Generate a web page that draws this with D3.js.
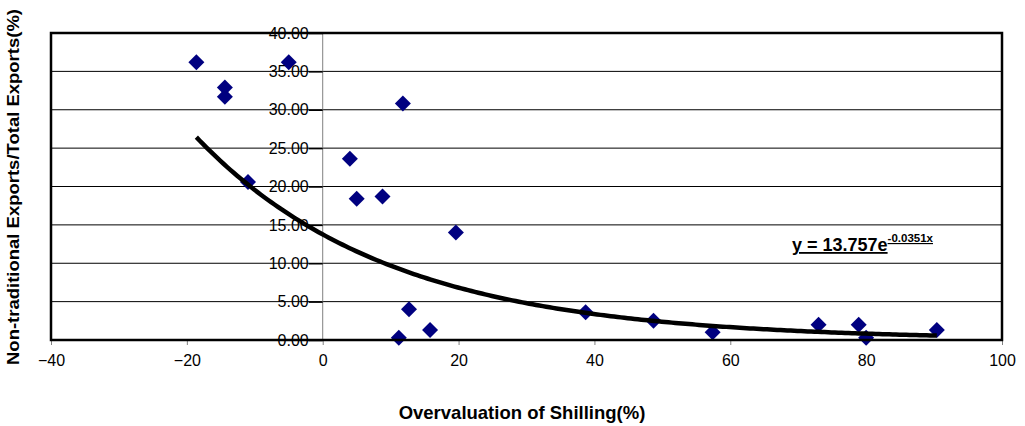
<!DOCTYPE html>
<html>
<head>
<meta charset="utf-8">
<script src="https://cdn.jsdelivr.net/npm/d3@7"></script>
<style>
  body { margin: 0; background: #fff; }
  svg { display: block; font-family: "Liberation Sans", Arial, sans-serif; }
</style>
</head>
<body>
<svg id="chart" width="1025" height="426"></svg>
<script>
// Overvaluation of shilling (%) vs non-traditional export share (%)
const overvaluation = [-18.6, -5.0, -14.4, -14.4, -11.0, 11.8, 4.0, 5.0, 8.8, 19.6,
  12.7, 11.2, 15.8, 38.7, 48.7, 57.4, 73.0, 78.9, 80.0, 90.4];
const exportShare = [36.2, 36.2, 32.9, 31.7, 20.6, 30.8, 23.6, 18.4, 18.7, 14.0,
  4.0, 0.3, 1.3, 3.6, 2.5, 1.0, 2.0, 2.0, 0.3, 1.3];

const xTicks = [-40, -20, 0, 20, 40, 60, 80, 100];
const yTicks = [0, 5, 10, 15, 20, 25, 30, 35, 40];

// exponential trendline shown on the chart: y = a * e^(b x)
const trendCoef = [13.757, -0.0351];

const svg = d3.select("#chart");
const plotLeft = 51, plotRight = 1002, plotTop = 33, plotBottom = 340;

const x = d3.scaleLinear().domain([-40, 100]).range([plotLeft, plotRight]);
const y = d3.scaleLinear().domain([0, 40]).range([plotBottom, plotTop]);

// horizontal gridlines
svg.append("g")
  .selectAll("line")
  .data(yTicks.filter(d => d > 0 && d < 40))
  .join("line")
  .attr("x1", plotLeft).attr("x2", plotRight)
  .attr("y1", d => y(d)).attr("y2", d => y(d))
  .attr("stroke", "#000").attr("stroke-width", 1);

// vertical axis at x = 0
svg.append("line")
  .attr("x1", x(0)).attr("x2", x(0))
  .attr("y1", plotTop).attr("y2", plotBottom)
  .attr("stroke", "#808080").attr("stroke-width", 1);

// x axis ticks and labels
const xAxis = svg.append("g").attr("transform", `translate(0,${plotBottom})`)
  .call(d3.axisBottom(x).tickValues(xTicks).tickSize(5).tickPadding(10).tickFormat(d3.format("d")));
xAxis.select(".domain").remove();
xAxis.selectAll(".tick line").attr("stroke", "#808080");
xAxis.selectAll(".tick text").attr("fill", "#000")
  .style("font-size", "16px")
  .style("font-family", "Liberation Sans, Arial, sans-serif");

// scatter points
const diamond = d3.symbol().type(d3.symbolSquare).size(128);
svg.append("g")
  .selectAll("path")
  .data(overvaluation.map((v, i) => [v, exportShare[i]]))
  .join("path")
  .attr("d", diamond)
  .attr("transform", d => `translate(${x(d[0])},${y(d[1])}) rotate(45)`)
  .attr("fill", "#000080");

// trendline
const xMin = d3.min(overvaluation), xMax = d3.max(overvaluation);
const trendX = d3.range(xMin, xMax + 0.01, 0.5);
svg.append("path")
  .datum(trendX.map(v => [v, trendCoef[0] * Math.exp(trendCoef[1] * v)]))
  .attr("d", d3.line().x(d => x(d[0])).y(d => y(d[1])))
  .attr("fill", "none")
  .attr("stroke", "#000")
  .attr("stroke-width", 4.5)
  .attr("stroke-linejoin", "round");

// y axis ticks and labels, crossing at x = 0
const yAxis = svg.append("g").attr("transform", `translate(${x(0)},0)`)
  .call(d3.axisLeft(y).tickValues(yTicks).tickSize(14).tickPadding(0).tickFormat(d3.format(".2f")));
yAxis.select(".domain").remove();
yAxis.selectAll(".tick line").attr("stroke", "#000").attr("stroke-width", 1.5);
yAxis.selectAll(".tick text").attr("fill", "#000")
  .style("font-size", "16px")
  .style("font-family", "Liberation Sans, Arial, sans-serif");

// plot frame
svg.append("rect")
  .attr("x", plotLeft).attr("y", plotTop)
  .attr("width", plotRight - plotLeft).attr("height", plotBottom - plotTop)
  .attr("fill", "none").attr("stroke", "#000").attr("stroke-width", 2.5);

// trend equation
const eq = svg.append("text")
  .attr("x", 792).attr("y", 251)
  .style("font-size", "18px").attr("font-weight", "bold")
  .attr("text-decoration", "underline");
eq.append("tspan").text(`y = ${trendCoef[0]}e`);
eq.append("tspan").attr("dy", -9).style("font-size", "11.5px").text(`${trendCoef[1]}x`);

// axis titles
svg.append("text")
  .attr("x", 522).attr("y", 419)
  .attr("text-anchor", "middle")
  .style("font-size", "18.5px").attr("font-weight", "bold")
  .text("Overvaluation of Shilling(%)");

svg.append("text")
  .attr("transform", "translate(19,187) rotate(-90)")
  .attr("text-anchor", "middle")
  .style("font-size", "17px").attr("font-weight", "bold")
  .attr("textLength", 356).attr("lengthAdjust", "spacingAndGlyphs")
  .text("Non-traditional Exports/Total Exports(%)");
</script>
</body>
</html>
